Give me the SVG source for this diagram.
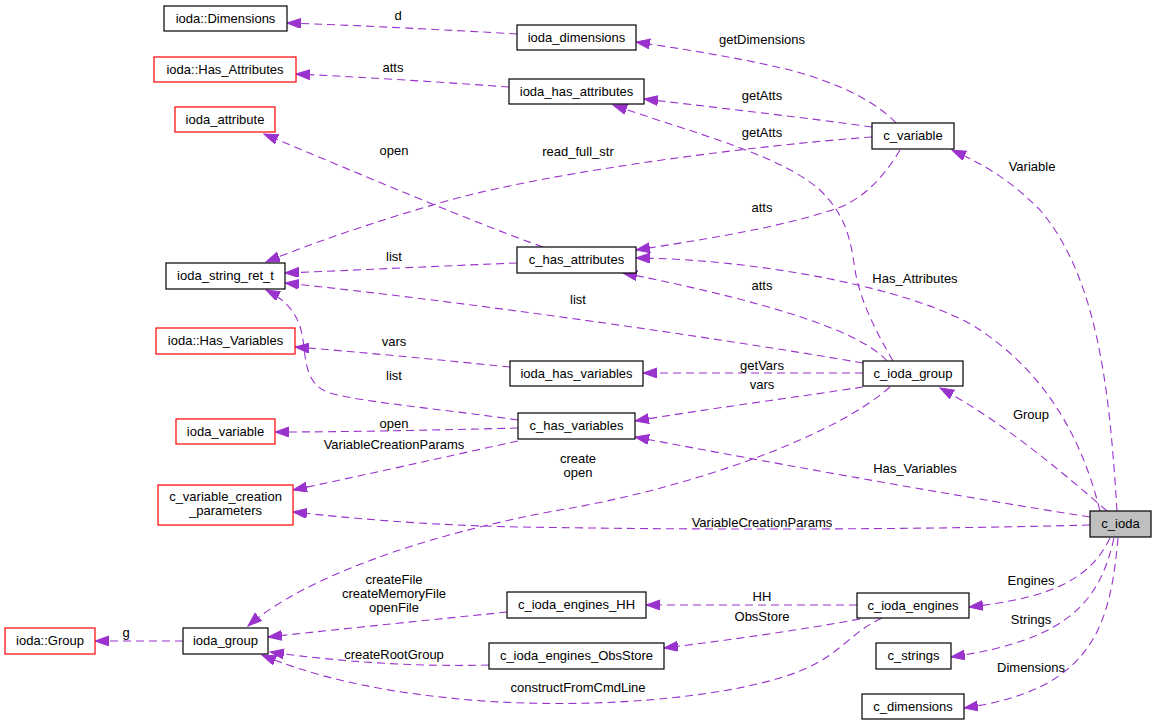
<svg xmlns="http://www.w3.org/2000/svg" width="1156" height="725" viewBox="0 0 1156 725">
<defs>
<marker id="arr" markerUnits="userSpaceOnUse" markerWidth="15" markerHeight="11" refX="14" refY="5" orient="auto">
<path d="M0,0 L14,5 L0,10 z" fill="#9a32cd" stroke="#9a32cd" stroke-width="1"/>
</marker>
<style>
.n rect{fill:#fff;stroke:#000;stroke-width:1.2}
.n.r rect{stroke:#ff0000}
.n.g rect{fill:#bfbfbf}
text{font-family:"Liberation Sans",Arial,sans-serif;font-size:13px;fill:#000}
.n text{text-anchor:middle}
.e path{fill:none;stroke:#9a32cd;stroke-width:1.1;stroke-dasharray:8,5;marker-end:url(#arr)}
.e text{text-anchor:middle}
</style>
</defs>
<rect width="1156" height="725" fill="#fff"/>
<g id="edges" class="e">
<path d="M517,34 C450,30 350,25 287,23"/><text x="398" y="20">d</text>
<path d="M896,123 C870,95 820,78 790,70 C740,58 690,50 636,42"/><text x="762" y="44">getDimensions</text>
<path d="M509,87 C440,82 360,77 296,74"/><text x="393" y="72">atts</text>
<path d="M872,127 C800,117 720,108 644,99"/><text x="762" y="100">getAtts</text>
<path d="M872,137 C760,145 560,170 450,200 C380,220 320,240 266,262"/><text x="578" y="156">read_full_str</text>
<path d="M893,361 C875,330 860,300 855,270 C850,235 845,215 820,190 C780,155 700,135 613,105"/><text x="762" y="137">getAtts</text>
<path d="M900,150 C885,175 865,198 838,208 C780,228 700,240 636,250"/><text x="762" y="212">atts</text>
<path d="M543,247 C480,225 350,170 264,134"/><text x="394" y="155">open</text>
<path d="M517,263 C440,266 360,270 285,273"/><text x="394" y="261">list</text>
<path d="M887,361 C860,330 760,300 623,273"/><text x="762" y="290">atts</text>
<path d="M863,363 C700,335 450,300 285,283"/><text x="578" y="304">list</text>
<path d="M1100,511 C1080,430 1040,370 980,330 C920,290 760,259 636,258"/><text x="915" y="283">Has_Attributes</text>
<path d="M510,367 C440,360 360,352 295,347"/><text x="394" y="346">vars</text>
<path d="M518,420 C450,410 360,402 330,393 C305,385 306,360 303,340 C300,318 290,302 266,290"/><text x="394" y="380">list</text>
<path d="M863,373 L643,373"/><text x="762" y="370">getVars</text>
<path d="M863,387 C790,398 700,410 635,421"/><text x="762" y="389">vars</text>
<path d="M518,428 C440,430 350,432 275,432"/><text x="394" y="428">open</text>
<path d="M518,441 C440,458 360,476 293,490"/><text x="394" y="449">VariableCreationParams</text>
<path d="M1090,517 C950,495 800,468 635,437"/><text x="915" y="473">Has_Variables</text>
<path d="M1090,525 C900,530 700,530 520,527 C420,525 350,518 293,512"/><text x="762" y="527">VariableCreationParams</text>
<path d="M890,387 C830,440 680,490 560,510 C420,535 300,580 248,626"/><text x="578" y="463">create</text><text x="578" y="477">open</text>
<path d="M1107,511 C1060,470 1000,420 940,388"/><text x="1031" y="419">Group</text>
<path d="M1117,511 C1110,400 1100,280 1040,210 C1010,180 985,165 952,150"/><text x="1032" y="171">Variable</text>
<path d="M183,641 L95,641"/><text x="126" y="637">g</text>
<path d="M507,612 C430,620 350,628 268,637"/><text x="394" y="584">createFile</text><text x="394" y="598">createMemoryFile</text><text x="394" y="612">openFile</text>
<path d="M489,665 C420,667 340,662 270,652"/><text x="394" y="659">createRootGroup</text>
<path d="M882,618 C845,635 840,660 780,678 C700,702 560,710 450,698 C370,690 310,675 262,655"/><text x="578" y="692">constructFromCmdLine</text>
<path d="M857,605 L646,605"/><text x="762" y="601">HH</text>
<path d="M860,619 C800,630 730,640 664,648"/><text x="762" y="621">ObsStore</text>
<path d="M1110,538 C1090,580 1050,598 969,607"/><text x="1031" y="585">Engines</text>
<path d="M1114,538 C1100,600 1070,640 951,657"/><text x="1031" y="624">Strings</text>
<path d="M1118,538 C1110,630 1090,690 964,708"/><text x="1031" y="672">Dimensions</text>
</g>
<g id="n_ioda_Dimensions" class="n"><rect x="164" y="6" width="123" height="25"/><text x="225.5" y="23">ioda::Dimensions</text></g>
<g id="n_ioda_Has_Attributes" class="n r"><rect x="154" y="57" width="142" height="25"/><text x="225" y="74">ioda::Has_Attributes</text></g>
<g id="n_ioda_attribute" class="n r"><rect x="175" y="107" width="100" height="25"/><text x="225" y="124">ioda_attribute</text></g>
<g id="n_ioda_dimensions" class="n"><rect x="517" y="25" width="119" height="25"/><text x="576.5" y="42">ioda_dimensions</text></g>
<g id="n_ioda_has_attributes" class="n"><rect x="509" y="79" width="135" height="25"/><text x="576.5" y="96">ioda_has_attributes</text></g>
<g id="n_c_variable" class="n"><rect x="872" y="123" width="82" height="26"/><text x="913" y="140">c_variable</text></g>
<g id="n_ioda_string_ret_t" class="n"><rect x="166" y="263" width="119" height="26"/><text x="225.5" y="280">ioda_string_ret_t</text></g>
<g id="n_c_has_attributes" class="n"><rect x="517" y="247" width="119" height="26"/><text x="576.5" y="264">c_has_attributes</text></g>
<g id="n_ioda_Has_Variables" class="n r"><rect x="156" y="328" width="139" height="26"/><text x="225.5" y="345">ioda::Has_Variables</text></g>
<g id="n_ioda_has_variables" class="n"><rect x="510" y="361" width="133" height="25"/><text x="576.5" y="378">ioda_has_variables</text></g>
<g id="n_c_has_variables" class="n"><rect x="518" y="413" width="117" height="26"/><text x="576.5" y="430">c_has_variables</text></g>
<g id="n_ioda_variable" class="n r"><rect x="176" y="419" width="99" height="25"/><text x="225.5" y="436">ioda_variable</text></g>
<g id="n_c_variable_creation_parameters" class="n r"><rect x="158" y="485" width="135" height="40"/><text x="225.5" y="501">c_variable_creation</text><text x="225.5" y="515">_parameters</text></g>
<g id="n_c_ioda_group" class="n"><rect x="863" y="361" width="100" height="25"/><text x="913" y="378">c_ioda_group</text></g>
<g id="n_c_ioda" class="n g"><rect x="1090" y="511" width="61" height="26"/><text x="1120.5" y="528">c_ioda</text></g>
<g id="n_c_ioda_engines" class="n"><rect x="857" y="593" width="112" height="25"/><text x="913" y="610">c_ioda_engines</text></g>
<g id="n_c_strings" class="n"><rect x="876" y="643" width="75" height="26"/><text x="913.5" y="660">c_strings</text></g>
<g id="n_c_dimensions" class="n"><rect x="862" y="694" width="102" height="25"/><text x="913" y="711">c_dimensions</text></g>
<g id="n_ioda_Group" class="n r"><rect x="5" y="628" width="90" height="26"/><text x="50" y="645">ioda::Group</text></g>
<g id="n_ioda_group" class="n"><rect x="183" y="628" width="85" height="26"/><text x="225.5" y="645">ioda_group</text></g>
<g id="n_c_ioda_engines_HH" class="n"><rect x="507" y="592" width="139" height="26"/><text x="576.5" y="609">c_ioda_engines_HH</text></g>
<g id="n_c_ioda_engines_ObsStore" class="n"><rect x="489" y="643" width="175" height="26"/><text x="576.5" y="660">c_ioda_engines_ObsStore</text></g>
</svg>
